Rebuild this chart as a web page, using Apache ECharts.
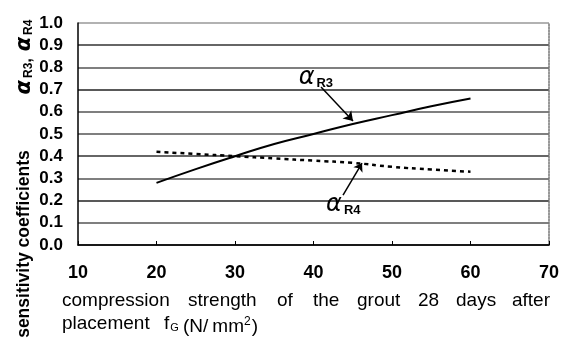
<!DOCTYPE html>
<html><head><meta charset="utf-8">
<script src="https://cdn.jsdelivr.net/npm/echarts@6/dist/echarts.min.js"></script>
<style>html,body{margin:0;padding:0;background:#fff}#c{width:567px;height:340px}</style>
</head><body><div id="c"></div>
<script>
const xValues = [20, 25, 30, 35, 40, 45, 50, 55, 60];
const alphaR3 = [0.28, 0.342, 0.40, 0.455, 0.50, 0.545, 0.585, 0.625, 0.66];
const alphaR4 = [0.42, 0.41, 0.40, 0.39, 0.38, 0.37, 0.352, 0.34, 0.33];
const xTicks = [10, 20, 30, 40, 50, 60, 70];
const yTicks = [0.0, 0.1, 0.2, 0.3, 0.4, 0.5, 0.6, 0.7, 0.8, 0.9, 1.0];
// annotation anchors (data coordinates)
const labelR3 = [40.3, 0.757];
const labelR4 = [43.8, 0.185];
const arrowR3 = [[40.96, 0.712], [45.03, 0.559]];
const arrowR4 = [[43.76, 0.225], [46.18, 0.369]];
const titleLine1 = ['compression', 'strength', 'of', 'the', 'grout', '28', 'days', 'after'];
const titleLine1X = [62, 188, 277, 313, 357, 418, 456, 512];

const chart = echarts.init(document.getElementById('c'), null, {renderer: 'canvas'});
const FONT = "'Liberation Sans', Arial, sans-serif";
const alphaRich = {
  a: {fontFamily: "'DejaVu Sans', sans-serif", fontStyle: 'italic', fontSize: 24, color: '#000', verticalAlign: 'bottom', lineHeight: 26},
  s: {fontFamily: FONT, fontWeight: 'bold', fontSize: 13, color: '#000', verticalAlign: 'bottom', lineHeight: 18, padding: [0, 0, 0, 2]}
};

const titleGraphics = titleLine1.map((w, i) => ({
  type: 'text', left: titleLine1X[i], top: 291,
  style: {text: w, font: "19px " + FONT, fill: '#000'}
}));

chart.setOption({
  animation: false,
  grid: {left: 78, right: 18, top: 23, bottom: 95},
  xAxis: {
    type: 'value', min: 10, max: 70, interval: 10,
    axisLine: {lineStyle: {color: '#000', width: 1.5}},
    axisTick: {inside: true, length: 4, lineStyle: {color: '#000'}},
    splitLine: {show: false},
    axisLabel: {margin: 19, fontFamily: FONT, fontWeight: 'bold', fontSize: 18, color: '#000',
      formatter: v => xTicks.includes(v) ? String(v) : ''}
  },
  yAxis: [{
    type: 'value', min: 0, max: 1, interval: 0.1,
    axisLine: {show: true, lineStyle: {color: '#000', width: 1.5}},
    axisTick: {show: false},
    splitLine: {show: true, lineStyle: {color: ['#333','#555','#222','#555','#333','#555','#555','#222','#555','#333','#999'], width: 1.5}},
    axisLabel: {margin: 15, fontFamily: FONT, fontWeight: 'bold', fontSize: 17, color: '#000',
      formatter: v => yTicks.some(t => Math.abs(t - v) < 1e-6) ? v.toFixed(1) : ''}
  }, {
    type: 'value', min: 0, max: 1, position: 'right',
    axisLine: {show: true, lineStyle: {color: '#777', width: 1.5, type: [2, 1]}},
    axisTick: {show: false}, axisLabel: {show: false}, splitLine: {show: false}
  }],
  series: [{
    name: 'αR3', type: 'line', smooth: true, symbol: 'none',
    data: xValues.map((x, i) => [x, alphaR3[i]]),
    lineStyle: {color: '#000', width: 2},
    markLine: {
      silent: true, symbol: ['none', 'arrow'], symbolSize: 9,
      lineStyle: {color: '#000', width: 1.5, type: 'solid'}, label: {show: false},
      data: [[{coord: arrowR3[0]}, {coord: arrowR3[1]}]]
    },
    markPoint: {
      symbol: 'circle', symbolSize: 0,
      data: [{coord: labelR3}],
      label: {show: true, position: 'inside', formatter: '{a|α}{s|R3}', rich: alphaRich}
    }
  }, {
    name: 'αR4', type: 'line', smooth: true, symbol: 'none',
    data: xValues.map((x, i) => [x, alphaR4[i]]),
    lineStyle: {color: '#000', width: 2.5, type: [4, 4]},
    markLine: {
      silent: true, symbol: ['none', 'arrow'], symbolSize: 8,
      lineStyle: {color: '#000', width: 1.5, type: 'solid'}, label: {show: false},
      data: [[{coord: arrowR4[0]}, {coord: arrowR4[1]}]]
    },
    markPoint: {
      symbol: 'circle', symbolSize: 0,
      data: [{coord: labelR4}],
      label: {show: true, position: 'inside', formatter: '{a|α}{s|R4}', rich: alphaRich}
    }
  }],
  graphic: titleGraphics.concat([
    {type: 'text', left: 62, top: 314,
     style: {text: 'placement', font: "19px " + FONT, fill: '#000'}},
    {type: 'text', left: 164, top: 314,
     style: {text: '{m|f}{sub|G}', rich: {
       m: {fontFamily: FONT, fontSize: 19, color: '#000', verticalAlign: 'bottom', lineHeight: 22},
       sub: {fontFamily: FONT, fontSize: 11, color: '#000', verticalAlign: 'bottom', lineHeight: 16, padding: [0, 0, 0, 1]}}}},
    {type: 'text', left: 183, top: 312,
     style: {text: '{m|(N/}{m2|mm}{sup|2}{m|)}', rich: {
       m: {fontFamily: FONT, fontSize: 19, color: '#000', verticalAlign: 'bottom', lineHeight: 24},
       m2: {fontFamily: FONT, fontSize: 19, color: '#000', verticalAlign: 'bottom', lineHeight: 24, padding: [0, 0, 0, 4]},
       sup: {fontFamily: FONT, fontSize: 12, color: '#000', verticalAlign: 'top', lineHeight: 24, padding: [4, 1, 0, 0]}}}},
    {type: 'text', x: 24, y: 244, rotation: Math.PI / 2,
     style: {text: 'sensitivity coefficients', align: 'center', verticalAlign: 'middle',
       font: "bold 17.5px " + FONT, fill: '#000'}},
    {type: 'text', x: 24, y: 57, rotation: Math.PI / 2,
     style: {text: '{a|α}{s|R3}{b|,}  {a|α}{s|R4}',
       align: 'center', verticalAlign: 'middle',
       rich: {
         b: {fontFamily: FONT, fontWeight: 'bold', fontSize: 17, color: '#000', verticalAlign: 'bottom', lineHeight: 22},
         a: {fontFamily: "'DejaVu Sans', sans-serif", fontStyle: 'italic', fontWeight: 'bold', fontSize: 21, color: '#000', verticalAlign: 'bottom', lineHeight: 22},
         s: {fontFamily: FONT, fontWeight: 'bold', fontSize: 12, color: '#000', verticalAlign: 'bottom', lineHeight: 18, padding: [0, 0, 0, 2]}
       }}}
  ])
});
</script></body></html>
